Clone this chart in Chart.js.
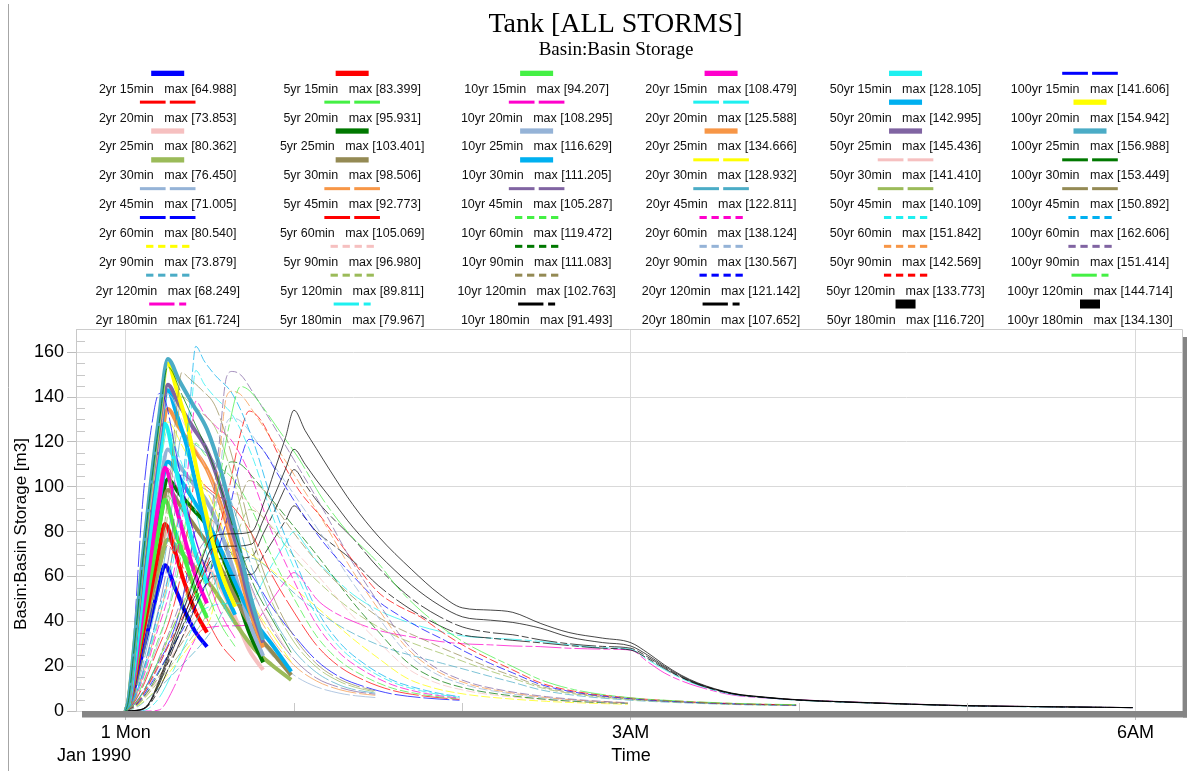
<!DOCTYPE html>
<html>
<head>
<meta charset="utf-8">
<title>Tank [ALL STORMS]</title>
<script src="https://cdn.jsdelivr.net/npm/chart.js@4.4.1/dist/chart.umd.min.js"></script>
<style>
  html, body { margin: 0; padding: 0; background: #fff; }
  #wrap { position: relative; width: 1187px; height: 771px; }
</style>
</head>
<body>
<div id="wrap"><canvas id="chart"></canvas></div>
<script>
const returnPeriods = ['2yr', '5yr', '10yr', '20yr', '50yr', '100yr'];
const durations = ['15min', '20min', '25min', '30min', '45min', '60min', '90min', '120min', '180min'];

// output times, minutes after 1 Mon 00:00
const t15 = [0, 1, 3, 6, 9, 12, 14, 17.5, 21, 25, 29];
const t20 = [0, 1, 3, 6, 9, 12, 15, 18, 22, 26, 30, 34, 39];
const t25 = [0, 1, 3, 6, 9, 12, 15, 19, 24, 29, 34, 39, 44, 49];
const t30 = [0, 1, 3, 6, 9, 12, 15, 20, 25, 30, 35, 40, 46, 52, 59];
const t45 = [0, 2, 5, 9, 13, 16, 18, 20, 23, 27, 32, 38, 45, 52, 60, 68, 76, 82, 89];
const t60 = [0, 2, 6, 11, 16, 20, 23, 25, 28, 32, 38, 45, 52, 60, 68, 76, 85, 95, 105, 112, 119];
const t90 = [0, 3, 8, 14, 20, 26, 30, 33, 36, 38, 41, 46, 52, 60, 70, 80, 90, 100, 110, 122, 135, 150, 165, 179];
const t120 = [0, 4, 10, 16, 22, 28, 33, 37, 41, 44, 48, 55, 62, 70, 79, 90, 97, 105, 113, 121, 130, 138, 148, 160, 180, 200, 220, 239];
const t180 = [0, 4, 8, 12, 17, 22, 27, 31, 38, 45, 49, 53, 57, 60, 64, 68, 73, 81, 90, 102, 112, 120, 130, 138, 148, 158, 170, 180, 186, 192, 198, 204, 216, 228, 240, 255, 280, 300, 330, 359];

// basin storage [m3]; rows are 2yr, 5yr, 10yr, 20yr, 50yr, 100yr
const storage15 = [
  [0, 1.3, 9.7, 26, 41.6, 56.5, 64.988, 55.2, 44.8, 35, 28.7],
  [0, 1.7, 12.5, 33.4, 53.4, 72.6, 83.399, 71.5, 57, 44, 35],
  [0, 1.9, 14.1, 37.7, 60.3, 82, 94.207, 80.5, 68, 53, 41.5],
  [0, 2.2, 16.3, 43.4, 69.4, 94.4, 108.479, 93, 77, 60, 48],
  [0, 2.6, 19.2, 51.2, 82, 111.5, 128.105, 110, 90, 70, 57],
  [0, 4, 35, 92, 125, 141.606, 139, 118, 96, 76, 62]
];
const storage20 = [
  [0, 2.2, 13.3, 31.8, 48, 62, 73.853, 68.7, 60.6, 49.5, 38.4, 29.5, 22.2],
  [0, 2.9, 17.3, 41.3, 62.4, 80.6, 95.931, 89.2, 78.7, 64.3, 49.9, 38.4, 28.8],
  [0, 3.2, 19.5, 46.6, 70.4, 91, 108.295, 100.7, 88.8, 72.6, 56.3, 43.3, 32.5],
  [0, 3.8, 22.6, 54, 81.6, 105.5, 125.588, 116.8, 103, 84.1, 65.3, 50.2, 37.7],
  [0, 4.3, 25.7, 61.5, 92.9, 120.1, 142.995, 133, 117.3, 95.8, 74.4, 57.2, 42.9],
  [0, 4.6, 27.9, 66.6, 100.7, 130.2, 154.942, 144.1, 127, 103.8, 80.6, 62, 46.5]
];
const storage25 = [
  [0, 2.4, 14.5, 34.6, 52.2, 67.5, 80.362, 75.5, 69.9, 64.3, 54.6, 41.8, 27.3, 18.3],
  [0, 3.1, 18.6, 44.5, 67.2, 86.9, 103.401, 97.2, 90, 82.7, 70.3, 53.8, 35.2, 21.7],
  [0, 3.5, 21, 50.2, 75.8, 98, 116.629, 109.6, 101.5, 93.3, 79.3, 60.6, 39.7, 24.5],
  [0, 4, 24.2, 57.9, 87.5, 113.1, 134.666, 126.6, 117.2, 107.7, 91.6, 70, 45.8, 28.3],
  [0, 4.4, 26.2, 62.5, 94.5, 122.2, 145.436, 136.7, 126.5, 116.3, 98.9, 75.6, 49.4, 30.5],
  [0, 4.7, 28.3, 67.5, 102, 131.9, 156.988, 147.6, 136.6, 125.6, 106.8, 81.6, 53.4, 31.7]
];
const storage30 = [
  [0, 2.3, 13.8, 32.9, 49.7, 64.2, 76.45, 70.3, 63.5, 56.6, 47.4, 37.5, 27.5, 20.6, 13.9],
  [0, 3, 17.7, 42.4, 64, 82.7, 98.506, 90.6, 81.8, 72.9, 61.1, 48.3, 35.5, 26.6, 16],
  [0, 3.3, 20, 47.8, 72.3, 93.4, 111.205, 102.3, 92.3, 82.3, 69, 54.5, 40, 30, 17.6],
  [0, 3.9, 23.2, 55.4, 83.8, 108.3, 128.932, 118.6, 107, 95.4, 79.9, 63.2, 46.4, 34.8, 21.9],
  [0, 4.2, 25.5, 60.8, 91.9, 118.8, 141.41, 130.1, 117.4, 104.6, 87.7, 69.3, 50.9, 38.2, 24],
  [0, 4.6, 27.6, 66, 99.7, 128.9, 153.449, 141.2, 127.4, 113.6, 95.1, 75.2, 55.2, 41.4, 26.1]
];
const storage45 = [
  [0, 1.4, 8.5, 21.3, 35.5, 49.7, 62.5, 71.005, 69.6, 67.5, 63.9, 53.3, 36.9, 25, 16, 10.8, 8, 6.8, 6],
  [0, 1.9, 11.1, 27.8, 46.4, 64.9, 81.6, 92.773, 90.9, 88.1, 83.5, 69.6, 48.2, 32.5, 20.4, 13.4, 9.6, 8, 7],
  [0, 2.1, 12.6, 31.6, 52.6, 73.7, 92.7, 105.287, 103.2, 100, 94.8, 79, 54.7, 36.9, 23.2, 14.7, 10.6, 8.7, 7.5],
  [0, 2.5, 14.7, 36.8, 61.4, 86, 108.1, 122.811, 120.4, 116.7, 110.5, 92.1, 63.9, 43, 27, 17.2, 11.7, 9.4, 8],
  [0, 2.8, 16.8, 42, 70.1, 98.1, 123.3, 140.109, 137.3, 133.1, 126.1, 105.1, 72.9, 49, 30.8, 19.6, 13.3, 10.5, 8.5],
  [0, 3, 18.1, 45.3, 75.4, 105.6, 132.8, 150.892, 147.9, 143.3, 135.8, 113.2, 78.5, 52.8, 33.2, 21.1, 14.3, 11.3, 9]
];
const storage60 = [
  [0, 1.6, 8.1, 20.1, 32.2, 48.3, 68.5, 80.54, 77.3, 74.1, 70.1, 60.4, 46.7, 33.8, 22.6, 15.4, 10.9, 7.6, 6, 5.3, 4.8],
  [0, 2.1, 10.5, 26.3, 42, 63, 89.3, 105.069, 100.9, 96.7, 91.4, 78.8, 60.9, 44.1, 29.4, 20, 13.7, 9.2, 6.9, 5.9, 5.2],
  [0, 2.4, 11.9, 29.9, 47.8, 71.7, 101.6, 119.472, 114.7, 109.9, 103.9, 89.6, 69.3, 50.2, 33.5, 22.7, 15.5, 10.2, 7.5, 6.3, 5.5],
  [0, 2.8, 13.8, 34.5, 55.2, 82.9, 117.4, 138.124, 132.6, 127.1, 120.2, 103.6, 80.1, 58, 38.7, 26.2, 17.9, 11.7, 8.3, 6.8, 5.8],
  [0, 3, 15.2, 38, 60.7, 91.1, 129.1, 151.842, 145.8, 139.7, 132.1, 113.9, 88.1, 63.8, 42.5, 28.8, 19.7, 12.9, 9.1, 7.3, 6.1],
  [0, 3.3, 16.3, 40.7, 65, 97.6, 138.2, 162.606, 156.1, 149.6, 141.5, 122, 94.3, 68.3, 45.5, 30.9, 21.1, 13.8, 9.8, 7.8, 6.4]
];
const storage90 = [
  [0, 1.5, 5.9, 14.8, 24.4, 34.7, 40.6, 56.1, 72.8, 73.879, 73.1, 68.7, 62.8, 54.7, 44.3, 33.2, 23.6, 14.8, 10.2, 7.3, 5.6, 4.3, 3.5, 3],
  [0, 1.9, 7.8, 19.4, 32, 45.6, 53.3, 73.7, 95.5, 96.98, 96, 90.2, 82.4, 71.8, 58.2, 43.6, 31, 19.4, 12.9, 8.9, 6.6, 4.9, 3.8, 3.3],
  [0, 2.2, 8.9, 22.2, 36.7, 52.2, 61.1, 84.4, 109.4, 111.083, 110, 103.3, 94.4, 82.2, 66.6, 50, 35.5, 22.2, 14.6, 9.9, 7.2, 5.2, 4, 3.4],
  [0, 2.6, 10.4, 26.1, 43.1, 61.4, 71.8, 99.2, 128.6, 130.567, 129.3, 121.4, 111, 96.6, 78.3, 58.8, 41.8, 26.1, 17, 11.3, 8.1, 5.7, 4.3, 3.5],
  [0, 2.9, 11.4, 28.5, 47, 67, 78.4, 108.4, 140.4, 142.569, 141.1, 132.6, 121.2, 105.5, 85.5, 64.2, 45.6, 28.5, 18.5, 12.1, 8.6, 6, 4.5, 3.6],
  [0, 3, 12.1, 30.3, 50, 71.2, 83.3, 115.1, 149.1, 151.414, 149.9, 140.8, 128.7, 112, 90.8, 68.1, 48.5, 30.3, 19.7, 12.9, 9.1, 6.4, 4.7, 3.7]
];
const storage120 = [
  [0, 1.7, 8, 15.3, 23, 31.3, 40.5, 51, 63, 68.249, 66.5, 58.5, 50.5, 43, 36, 29.5, 26.5, 23.8, 21.2, 18.5, 15.4, 12.8, 9.4, 7, 4.8, 3.6, 2.8, 2.4],
  [0, 2.3, 10.5, 20, 30, 41, 53, 67, 83, 89.811, 87.5, 77, 66, 56, 46.5, 37.5, 33, 29, 25.5, 21.8, 17.8, 14.6, 10.4, 7.6, 5.1, 3.8, 2.9, 2.5],
  [0, 2.6, 12, 23, 34, 47, 61, 77, 95, 102.763, 100, 88, 76, 64, 53, 42, 37, 32.5, 28, 23.8, 19.2, 15.6, 11, 8, 5.3, 3.9, 3, 2.6],
  [0, 3.1, 14, 27, 40, 55, 72, 90, 112, 121.142, 118, 104, 90, 76, 63, 49, 43, 37, 32, 26.5, 21.2, 17, 11.8, 8.4, 5.5, 4, 3.1, 2.6],
  [0, 3.5, 16, 31, 46, 62, 80, 100, 124, 133.773, 130, 113, 98, 86, 70.4, 53, 47, 42, 35, 28.8, 23, 18.3, 12.5, 8.8, 5.8, 4.2, 3.2, 2.7],
  [0, 4, 18, 35, 52, 72, 100, 128, 144.714, 143, 137, 124.6, 112, 95, 80, 66, 55, 45, 37, 30.4, 24.5, 19.8, 13.9, 9.5, 5.9, 4.3, 3.3, 2.8]
];
const storage180 = [
  [0, 0, 0, 0.5, 10, 25, 36, 37.5, 38, 38.5, 44, 51, 58, 61.724, 57, 50, 45, 40, 36, 33, 31, 30, 29.5, 29, 28.7, 28, 27.6, 27.2, 22, 17, 13.5, 10.9, 7.2, 5.8, 5, 4.2, 3.1, 2.4, 1.9, 1.5],
  [0, 0, 1, 6, 18, 32, 44, 47, 48, 49, 58, 67, 75, 79.967, 74, 67, 61, 52, 45, 39, 35.5, 33.5, 32.5, 32, 31, 29.5, 28.2, 27.5, 23, 18.5, 14.6, 11.5, 7.5, 5.9, 4.8, 4, 3, 2.3, 1.8, 1.5],
  [0, 0.2, 2.2, 10, 24, 38, 52, 60, 60.5, 61, 69, 77, 85, 91.493, 86, 80, 75, 67, 56, 45, 38, 34, 32.5, 31.5, 30.4, 29.2, 28, 27.2, 23.5, 19, 15, 11.8, 7.7, 6, 4.8, 4, 3, 2.3, 1.8, 1.5],
  [0, 0.3, 2.6, 12, 28, 43, 58, 67.4, 68, 69, 79, 89, 100, 107.652, 101, 94, 87, 77, 64, 50, 42, 37.5, 35, 34, 31.7, 30, 28.8, 28, 24.2, 19.5, 15.2, 12, 7.8, 6, 4.9, 4.1, 3, 2.3, 1.9, 1.5],
  [0, 0.3, 2.8, 13, 30, 46, 62, 72.6, 73.5, 74.5, 85, 96, 108, 116.72, 110, 103, 95, 82, 70, 56, 47, 42, 40.5, 39.5, 36.9, 33, 30.5, 29, 25, 20, 15.6, 12.2, 7.9, 6.1, 4.9, 4.1, 3, 2.4, 1.9, 1.5],
  [0, 0.3, 3, 14, 32, 50, 67, 78, 79, 80, 92, 107, 122, 134.13, 125, 117, 107, 92, 78, 63, 52, 46, 45, 44, 39, 35, 32.5, 30.5, 26, 20.6, 16, 12.5, 8, 6.2, 5, 4.2, 3.1, 2.4, 1.9, 1.5]
];

const times = [t15, t20, t25, t30, t45, t60, t90, t120, t180];
const storage = [storage15, storage20, storage25, storage30, storage45, storage60, storage90, storage120, storage180];

const BLUE = '#0000ff', RED = '#ff0000', PINK = '#f6c0c0', OLIVE = '#9bbb59', LTBLUE = '#95b3d7',
  YELLOW = '#ffff00', TEAL = '#4bacc6', MAGENTA = '#ff00cc', LIME = '#44f044', DKGREEN = '#007800',
  KHAKI = '#948a54', ORANGE = '#f79646', CYAN = '#1ef0f0', SKY = '#00b0f0', PURPLE = '#8064a2', BLACK = '#000000';

// one row per return period, one entry per duration
const lineColors = [
  [BLUE, RED, PINK, OLIVE, LTBLUE, BLUE, YELLOW, TEAL, MAGENTA],
  [RED, LIME, DKGREEN, KHAKI, ORANGE, RED, PINK, OLIVE, CYAN],
  [LIME, MAGENTA, LTBLUE, SKY, PURPLE, LIME, DKGREEN, KHAKI, BLACK],
  [MAGENTA, CYAN, ORANGE, YELLOW, TEAL, MAGENTA, LTBLUE, BLUE, BLACK],
  [CYAN, SKY, PURPLE, PINK, OLIVE, CYAN, ORANGE, RED, BLACK],
  [BLUE, YELLOW, TEAL, DKGREEN, KHAKI, SKY, PURPLE, LIME, BLACK]
];
const lineKinds = [
  ['solid', 'dash', 'solid', 'solid', 'dash', 'dash', 'dot', 'dot', 'dashdot'],
  ['solid', 'dash', 'solid', 'solid', 'dash', 'dash', 'dot', 'dot', 'dashdot'],
  ['solid', 'dash', 'solid', 'solid', 'dash', 'dot', 'dot', 'dot', 'dashdot'],
  ['solid', 'dash', 'solid', 'dash', 'dash', 'dot', 'dot', 'dot', 'dashdot'],
  ['solid', 'solid', 'solid', 'dash', 'dash', 'dot', 'dot', 'dot', 'block'],
  ['dash', 'solid', 'solid', 'dash', 'dash', 'dot', 'dot', 'dashdot', 'block']
];

// dash patterns used on the plot (thin lines)
const dashFor = { solid: [], block: [], dash: [26, 3], dot: [9, 3], dashdot: [26, 3, 7, 3] };
const sansFont = '"Liberation Sans", Arial, sans-serif';
const serifFont = '"Liberation Serif", "Times New Roman", serif';

function fade(hex, alpha) {
  const n = parseInt(hex.slice(1), 16);
  return 'rgba(' + (n >> 16) + ',' + ((n >> 8) & 255) + ',' + (n & 255) + ',' + alpha + ')';
}

const datasets = [];
const legendItems = [];
returnPeriods.forEach((rp, r) => {
  durations.forEach((dur, d) => {
    const vals = storage[d][r];
    const kind = lineKinds[r][d];
    const thick = kind === 'solid';
    datasets.push({
      label: rp + ' ' + dur,
      data: times[d].map((t, k) => ({ x: t, y: vals[k] })),
      borderColor: thick ? lineColors[r][d] : fade(lineColors[r][d], 0.72),
      borderWidth: thick ? 4 : 1,
      borderDash: dashFor[kind],
      borderJoinStyle: 'round',
      pointRadius: 0,
      fill: false,
      cubicInterpolationMode: 'monotone'
    });
    legendItems.push({ col: r, row: d, kind, color: lineColors[r][d],
      text: rp + ' ' + dur + '   max [' + Math.max(...vals).toFixed(3) + ']' });
  });
});
// later storms sit on top of earlier ones
datasets.forEach((ds, i) => { ds.order = datasets.length - i; });

function drawSample(ctx, item, cx, cy) {
  ctx.fillStyle = item.color;
  if (item.kind === 'solid') {
    ctx.fillRect(cx - 16.5, cy - 2.6, 33, 5.3);
  } else if (item.kind === 'dash') {
    ctx.fillRect(cx - 27.8, cy - 1.5, 25.7, 3);
    ctx.fillRect(cx + 2.1, cy - 1.5, 25.7, 3);
  } else if (item.kind === 'dot') {
    for (let k = 0; k < 4; k++) ctx.fillRect(cx - 21.6 + k * 12, cy - 1.5, 7.3, 3);
  } else if (item.kind === 'dashdot') {
    ctx.fillRect(cx - 18.5, cy - 1.5, 25.3, 3);
    ctx.fillRect(cx + 11.5, cy - 1.5, 7, 3);
  } else {
    ctx.fillRect(cx - 10, cy - 4.5, 20, 9);
  }
}

const frame = {
  id: 'frame',
  afterDraw(chart) {
    const ctx = chart.ctx;
    const a = chart.chartArea;
    const xs = chart.scales.x, ys = chart.scales.y;
    ctx.save();

    ctx.strokeStyle = '#a6a6a6';
    ctx.lineWidth = 1;
    ctx.beginPath(); ctx.moveTo(8.5, 4); ctx.lineTo(8.5, 771); ctx.stroke();

    // top and right edges of the plot box
    ctx.strokeStyle = '#cccccc';
    ctx.beginPath();
    ctx.moveTo(a.left, a.top + 0.5); ctx.lineTo(a.right - 0.5, a.top + 0.5); ctx.lineTo(a.right - 0.5, a.bottom);
    ctx.stroke();

    // minor ticks
    ctx.strokeStyle = '#c8c8c8';
    ctx.beginPath();
    for (let v = 5; v <= 165; v += 5) {
      if (v % 20 === 0) continue;
      const py = Math.round(ys.getPixelForValue(v)) + 0.5;
      ctx.moveTo(a.left, py); ctx.lineTo(a.left + 9, py);
    }
    [60, 120, 240, 300].forEach(m => {
      const px = Math.round(xs.getPixelForValue(m)) + 0.5;
      ctx.moveTo(px, a.bottom - 8); ctx.lineTo(px, a.bottom);
    });
    ctx.stroke();

    // shadow under and right of the plot box
    ctx.fillStyle = '#858585';
    ctx.fillRect(a.left + 6, a.bottom, chart.width - a.left - 6, 6.5);
    ctx.fillRect(a.right, a.top + 8, chart.width - a.right, a.bottom - a.top - 1.5);

    ctx.fillStyle = '#000';
    ctx.textAlign = 'center';
    ctx.textBaseline = 'alphabetic';
    ctx.font = '28px ' + serifFont;
    ctx.fillText('Tank [ALL STORMS]', 615.5, 31.5);
    ctx.font = '19px ' + serifFont;
    ctx.fillText('Basin:Basin Storage', 616, 55);

    ctx.font = '18px ' + sansFont;
    ctx.textAlign = 'left';
    ctx.fillText('Jan 1990', 57, 761);
    ctx.textAlign = 'center';
    ctx.fillText('Time', 631, 761);

    ctx.save();
    ctx.translate(26, 534);
    ctx.rotate(-Math.PI / 2);
    ctx.font = '17px ' + sansFont;
    ctx.fillText('Basin:Basin Storage [m3]', 0, 0);
    ctx.restore();

    // legend grid: one column per return period
    ctx.font = '12.5px ' + sansFont;
    legendItems.forEach(item => {
      const cx = 167.7 + item.col * 184.46;
      const sy = 73.3 + item.row * 28.84;
      drawSample(ctx, item, cx, sy);
      ctx.fillStyle = '#111';
      ctx.fillText(item.text, cx, sy + 19.5);
    });

    ctx.restore();
  }
};

new Chart(document.getElementById('chart'), {
  type: 'line',
  data: { datasets },
  options: {
    responsive: true,
    maintainAspectRatio: false,
    animation: false,
    layout: { padding: { top: 329, right: 4, left: 0, bottom: 0 } },
    plugins: { legend: { display: false }, tooltip: { enabled: false }, title: { display: false } },
    scales: {
      x: {
        type: 'linear',
        min: -17.7,
        max: 376.9,
        afterBuildTicks: s => { s.ticks = [0, 180, 360].map(v => ({ value: v })); },
        afterFit: s => { s.height = 60; },
        ticks: {
          callback: v => ({ 0: '1 Mon', 180: '3AM', 360: '6AM' })[v] || '',
          font: { family: sansFont, size: 18 },
          color: '#000',
          padding: 2,
          maxRotation: 0,
          autoSkip: false
        },
        grid: { color: '#d9d9d9', tickLength: 9, tickColor: '#bdbdbd' },
        border: { display: false }
      },
      y: {
        min: 0,
        max: 170.35,
        afterBuildTicks: s => { s.ticks = [0, 20, 40, 60, 80, 100, 120, 140, 160].map(v => ({ value: v })); },
        afterFit: s => { s.width = 76; },
        ticks: { font: { family: sansFont, size: 18 }, color: '#000', padding: 3 },
        grid: { color: '#d9d9d9', tickLength: 9, tickColor: '#bdbdbd' },
        border: { color: '#c8c8c8' }
      }
    }
  },
  plugins: [frame]
});
</script>
</body>
</html>
